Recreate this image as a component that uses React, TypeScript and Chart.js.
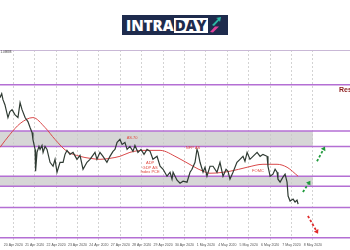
import React, { useEffect, useRef } from "react";
import { Chart, registerables } from "chart.js";
Chart.register(...registerables);

// Price path (bar index, close)
const priceBars = [
  -7.5, -6.5, -5.8, -4.7, -3.0, -1.9, -0.7, 0.9, 2.6, 3.8, 4.9, 6.6, 8.2, 9.4, 10.5, 11.0, 12.2, 12.5, 13.3, 14.4,
  15.0, 16.1, 16.7, 17.8, 18.9, 20.6, 22.3, 23.4, 24.5, 26.2, 27.9, 29.0, 30.1, 31.8, 33.5, 35.7, 37.4, 39.1, 41.3, 43.0,
  45.8, 46.9, 48.6, 50.3, 52.5, 54.2, 55.9, 57.0, 58.2, 59.8, 61.0, 62.6, 63.8, 65.4, 67.1, 68.2, 69.9, 71.6, 73.3, 75.0,
  76.7, 78.3, 80.6, 82.3, 84.0, 86.2, 87.9, 89.0, 89.6, 91.8, 93.5, 95.2, 97.4, 99.1, 100.2, 101.9, 103.0, 103.6, 104.7, 106.4,
  107.5, 108.6, 110.3, 112.0, 114.2, 115.9, 117.6, 119.3, 120.4, 121.5, 123.2, 125.4, 127.1, 128.8, 129.9, 131.1, 132.7, 134.4, 136.7, 138.4,
  140.0, 142.3, 142.8, 144.0, 145.6, 146.8, 147.9, 148.4, 149.6, 151.2, 152.4, 153.5, 154.1, 155.2, 156.9, 158.0, 159.1, 159.7,
];
const priceCloses = [
  1.0904, 1.0912, 1.0900, 1.0890, 1.0864, 1.0876, 1.0880, 1.0870, 1.0864, 1.0894, 1.0880, 1.0864, 1.0856, 1.0844, 1.0834, 1.0820, 1.0800, 1.0756, 1.0794, 1.0806,
  1.0800, 1.0808, 1.0794, 1.0806, 1.0800, 1.0774, 1.0766, 1.0780, 1.0754, 1.0774, 1.0774, 1.0790, 1.0798, 1.0790, 1.0794, 1.0780, 1.0788, 1.0760, 1.0774, 1.0780,
  1.0794, 1.0780, 1.0794, 1.0786, 1.0774, 1.0786, 1.0796, 1.0800, 1.0814, 1.0820, 1.0810, 1.0814, 1.0800, 1.0806, 1.0796, 1.0808, 1.0794, 1.0800, 1.0790, 1.0800,
  1.0796, 1.0780, 1.0786, 1.0766, 1.0760, 1.0746, 1.0754, 1.0740, 1.0754, 1.0738, 1.0732, 1.0736, 1.0734, 1.0754, 1.0760, 1.0774, 1.0800, 1.0794, 1.0774, 1.0754,
  1.0764, 1.0746, 1.0766, 1.0766, 1.0754, 1.0774, 1.0746, 1.0760, 1.0756, 1.0740, 1.0754, 1.0774, 1.0780, 1.0786, 1.0776, 1.0794, 1.0780, 1.0786, 1.0794, 1.0786,
  1.0790, 1.0786, 1.0766, 1.0746, 1.0750, 1.0760, 1.0754, 1.0740, 1.0734, 1.0744, 1.0750, 1.0734, 1.0706, 1.0696, 1.0700, 1.0694, 1.0698, 1.0690,
];

// Moving average
const maBars = [-7.5, -1.9, 3.8, 11.0, 17.8, 23.4, 30.1, 37.4, 43.0, 48.6, 54.2, 59.8, 65.4, 72.7, 82.3, 91.8, 100.8, 106.4, 110.3, 121.5, 131.1, 140.0, 147.9, 153.5, 159.7];
const maValues = [1.0804, 1.0830, 1.0852, 1.0864, 1.0844, 1.0820, 1.0796, 1.0786, 1.0782, 1.0780, 1.0782, 1.0786, 1.0794, 1.0798, 1.0798, 1.0784, 1.0766, 1.0756, 1.0752, 1.0756, 1.0764, 1.0770, 1.0770, 1.0764, 1.0746];

// Horizontal levels and zones
const levels = [1.0930, 1.0837, 1.0806, 1.0746, 1.0726, 1.0683, 1.0622];
const zoneLows = [1.0806, 1.0726];
const zoneHighs = [1.0837, 1.0746];
const zoneEndBar = 168;

// X axis
const dateLabels = [
  "20 Apr 2020", "21 Apr 2020", "22 Apr 2020", "23 Apr 2020", "24 Apr 2020", "27 Apr 2020", "28 Apr 2020", "29 Apr 2020",
  "30 Apr 2020", "1 May 2020", "4 May 2020", "5 May 2020", "6 May 2020", "7 May 2020", "8 May 2020",
];
const barsPerDay = 12;

// Event notes
const noteTexts = ["AS.70", "ADP", "GDP AS", "Index PCE", "NFP AS", "FOMC"];
const noteBars = [66.6, 76.7, 76.7, 76.7, 100.8, 137.2];
const notePrices = [1.0824, 1.0772, 1.0763, 1.0755, 1.0802, 1.0756];

const resistanceText = "Resistance";
const resistanceBar = 182.6;
const resistancePrice = 1.0919;

// Scenario arrows [fromBar, fromPrice, toBar, toPrice]
const greenArrows = [
  [162.4, 1.0714, 166.6, 1.0737],
  [170.3, 1.0776, 174.8, 1.0806],
];
const redArrows = [[165.2, 1.0666, 170.9, 1.0630]];

const topPriceLabel = "1.09888";

function drawArrow(ctx: CanvasRenderingContext2D, x1: number, y1: number, x2: number, y2: number, color: string) {
  const ang = Math.atan2(y2 - y1, x2 - x1);
  const hl = 4;
  const bx = x2 - Math.cos(ang) * hl;
  const by = y2 - Math.sin(ang) * hl;
  ctx.save();
  ctx.strokeStyle = color;
  ctx.fillStyle = color;
  ctx.lineWidth = 1.8;
  ctx.setLineDash([2.5, 2]);
  ctx.beginPath();
  ctx.moveTo(x1, y1);
  ctx.lineTo(bx, by);
  ctx.stroke();
  ctx.setLineDash([]);
  ctx.beginPath();
  ctx.moveTo(x2, y2);
  ctx.lineTo(bx + Math.cos(ang + Math.PI / 2) * 2.6, by + Math.sin(ang + Math.PI / 2) * 2.6);
  ctx.lineTo(bx + Math.cos(ang - Math.PI / 2) * 2.6, by + Math.sin(ang - Math.PI / 2) * 2.6);
  ctx.closePath();
  ctx.fill();
  ctx.restore();
}

const overlayPlugin = {
  id: "overlay",
  beforeDatasetsDraw(chart: any) {
    const { ctx, chartArea, scales } = chart;
    const xs = scales.x;
    const ys = scales.y;
    ctx.save();
    ctx.fillStyle = "rgba(200,200,200,0.75)";
    for (let i = 0; i < zoneLows.length; i++) {
      const yTop = ys.getPixelForValue(zoneHighs[i]);
      const yBot = ys.getPixelForValue(zoneLows[i]);
      const xEnd = xs.getPixelForValue(zoneEndBar);
      ctx.fillRect(chartArea.left, yTop, xEnd - chartArea.left, yBot - yTop);
    }
    ctx.strokeStyle = "#b46fd4";
    ctx.lineWidth = 1.5;
    for (const lv of levels) {
      const y = ys.getPixelForValue(lv);
      ctx.beginPath();
      ctx.moveTo(chartArea.left, y);
      ctx.lineTo(chartArea.right, y);
      ctx.stroke();
    }
    ctx.strokeStyle = "#c9b8d6";
    ctx.lineWidth = 1;
    ctx.beginPath();
    ctx.moveTo(chartArea.left, chartArea.top + 0.5);
    ctx.lineTo(chartArea.right, chartArea.top + 0.5);
    ctx.stroke();
    ctx.restore();
  },
  afterDatasetsDraw(chart: any) {
    const { ctx, scales, chartArea } = chart;
    const xs = scales.x;
    const ys = scales.y;
    ctx.save();
    ctx.fillStyle = "#e0483f";
    ctx.font = "4px Arial, 'Liberation Sans', sans-serif";
    ctx.textAlign = "center";
    ctx.textBaseline = "middle";
    for (let i = 0; i < noteTexts.length; i++) {
      ctx.fillText(noteTexts[i], xs.getPixelForValue(noteBars[i]), ys.getPixelForValue(notePrices[i]));
    }
    ctx.fillStyle = "#8c1c1c";
    ctx.font = "bold 7px Arial, 'Liberation Sans', sans-serif";
    ctx.textAlign = "left";
    ctx.fillText(resistanceText, xs.getPixelForValue(resistanceBar), ys.getPixelForValue(resistancePrice));
    ctx.fillStyle = "#333";
    ctx.font = "3px Arial, sans-serif";
    ctx.textBaseline = "top";
    ctx.fillText(topPriceLabel, chartArea.left + 0.5, chartArea.top + 1);
    for (const a of greenArrows) {
      drawArrow(ctx, xs.getPixelForValue(a[0]), ys.getPixelForValue(a[1]), xs.getPixelForValue(a[2]), ys.getPixelForValue(a[3]), "#1f9a3c");
    }
    for (const a of redArrows) {
      drawArrow(ctx, xs.getPixelForValue(a[0]), ys.getPixelForValue(a[1]), xs.getPixelForValue(a[2]), ys.getPixelForValue(a[3]), "#e02a2a");
    }
    ctx.restore();
  },
};

function Logo() {
  return (
    <div
      style={{
        position: "absolute",
        left: 122,
        top: 15,
        width: 106,
        height: 20,
        background: "#1e2b4d",
        display: "flex",
        alignItems: "center",
        boxSizing: "border-box",
        paddingLeft: 4,
        fontFamily: "'Open Sans', Lato, sans-serif",
        fontWeight: 800,
        fontSize: 15,
        lineHeight: "15px",
        letterSpacing: 0,
      }}
    >
      <span style={{ color: "#ffffff" }}>INTRA</span>
      <span style={{ background: "#ffffff", color: "#1e2b4d", padding: "0 1px", height: 15, display: "inline-block" }}>DAY</span>
      <svg width="14" height="16" viewBox="0 0 14 16" style={{ marginLeft: 1 }}>
        <polygon points="3,8 9,2 7,1 12,0 11,5 10,3.5 5,9" fill="#2bb8a3" />
        <polygon points="1,15 6,9.5 10,9.5 4,15.5" fill="#e0409a" />
      </svg>
    </div>
  );
}

export default function App() {
  const canvasRef = useRef<HTMLCanvasElement | null>(null);
  useEffect(() => {
    if (!canvasRef.current) return;
    const chart = new Chart(canvasRef.current, {
      type: "line",
      data: {
        datasets: [
          {
            data: priceBars.map((b, i) => ({ x: b, y: priceCloses[i] })),
            borderColor: "#2f3b33",
            borderWidth: 1.2,
            pointRadius: 0,
            tension: 0,
          },
          {
            data: maBars.map((b, i) => ({ x: b, y: maValues[i] })),
            borderColor: "#d9494a",
            borderWidth: 1,
            pointRadius: 0,
            cubicInterpolationMode: "monotone",
          },
        ],
      },
      options: {
        animation: false,
        responsive: false,
        maintainAspectRatio: false,
        layout: { padding: { top: 50, left: 0, right: 0, bottom: 0 } },
        plugins: { legend: { display: false }, tooltip: { enabled: false } },
        scales: {
          x: {
            type: "linear",
            min: -7.46,
            max: 188.8,
            afterBuildTicks: (axis: any) => {
              axis.ticks = dateLabels.map((_, i) => ({ value: i * barsPerDay }));
            },
            ticks: {
              callback: (v: any) => dateLabels[Math.round(Number(v) / barsPerDay)] ?? "",
              font: { size: 3.5, family: "Arial, sans-serif" },
              color: "#555",
              padding: 2.5,
              maxRotation: 0,
              autoSkip: false,
            },
            grid: { color: "#c8c8c8", lineWidth: 0.8, drawTicks: false },
            border: { display: false, dash: [2, 2] },
          },
          y: {
            display: false,
            min: 1.0616,
            max: 1.1,
          },
        },
      },
      plugins: [overlayPlugin],
    } as any);
    return () => chart.destroy();
  }, []);
  return (
    <div style={{ position: "fixed", left: 0, top: 0, width: 350, height: 250, background: "#fff", overflow: "hidden" }}>
      <canvas ref={canvasRef} width={350} height={250} style={{ position: "absolute", left: 0, top: 0, width: 350, height: 250 }} />
      <Logo />
    </div>
  );
}
